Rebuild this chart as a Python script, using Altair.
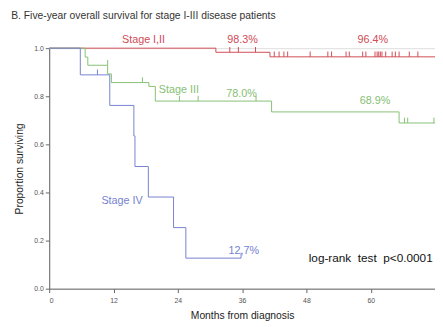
import altair as alt
import pandas as pd

# ---- data ----
red_t = [0, 31.1, 41.2, 72]
red_s = [1.0, 0.983, 0.964, 0.964]
green_t = [0, 6.7, 7.2, 10.9, 11.6, 18.6, 19.8, 41.5, 65.3, 72]
green_s = [1.0, 0.963, 0.929, 0.893, 0.857, 0.841, 0.780, 0.735, 0.689, 0.689]
blue_t = [0, 5.8, 11.3, 15.8, 16.0, 18.5, 23.2, 25.5, 35.8]
blue_s = [1.0, 0.889, 0.762, 0.635, 0.508, 0.381, 0.254, 0.127, 0.127]

red_cens_t = [33.7, 35.3, 38.5, 42.0, 42.9, 43.8, 44.5, 48.7, 52.0, 52.7, 55.4, 56.0,
              58.5, 59.1, 60.8, 61.2, 61.5, 61.8, 62.1, 62.8, 64.0, 64.6, 65.3, 67.2, 68.8]
red_cens_s = [0.983] * 3 + [0.964] * 22
green_cens_t = [10.9, 17.4, 24.3, 27.8, 38.6, 66.3, 66.9, 71.8]
green_cens_s = [0.929, 0.857, 0.780, 0.780, 0.780, 0.689, 0.689, 0.689]
blue_cens_t = [9.0, 35.8]
blue_cens_s = [0.889, 0.127]

series = ["Stage I,II", "Stage III", "Stage IV"]
line_colors = ["#cf4b55", "#86c073", "#7582d0"]
text_colors = ["#d03a45", "#6cb35a", "#5a70c0"]

labels = ["Stage I,II", "98.3%", "96.4%", "Stage III", "78.0%", "68.9%", "Stage IV", "12,7%"]
label_series = ["Stage I,II", "Stage I,II", "Stage I,II", "Stage III", "Stage III", "Stage III",
                "Stage IV", "Stage IV"]
label_t = [17.6, 36.1, 60.4, 24.2, 35.9, 60.8, 13.6, 36.3]
label_s = [1.033, 1.033, 1.033, 0.827, 0.811, 0.782, 0.364, 0.158]

logrank_text = ["log-rank\u00a0 test\u00a0 p<0.0001"]
logrank_t = [60.0]
logrank_s = [0.129]

x_ticks = [0, 12, 24, 36, 48, 60, 72]
y_ticks = [0, 0.1, 0.2, 0.3, 0.4, 0.5, 0.6, 0.7, 0.8, 0.9, 1.0]

# ---- tables ----
curves = pd.concat([
    pd.DataFrame({"t": red_t, "s": red_s, "g": series[0]}),
    pd.DataFrame({"t": green_t, "s": green_s, "g": series[1]}),
    pd.DataFrame({"t": blue_t, "s": blue_s, "g": series[2]}),
])
cens = pd.concat([
    pd.DataFrame({"t": red_cens_t, "s": red_cens_s, "g": series[0]}),
    pd.DataFrame({"t": green_cens_t, "s": green_cens_s, "g": series[1]}),
    pd.DataFrame({"t": blue_cens_t, "s": blue_cens_s, "g": series[2]}),
])
lab = pd.DataFrame({"label": labels, "g": label_series, "t": label_t, "s": label_s})
lr = pd.DataFrame({"label": logrank_text, "t": logrank_t, "s": logrank_s})

xscale = alt.Scale(domain=[0, 72], nice=False)
yscale = alt.Scale(domain=[0, 1], nice=False)
line_color = alt.Color("g:N", scale=alt.Scale(domain=series, range=line_colors), legend=None)
text_color = alt.Color("g:N", scale=alt.Scale(domain=series, range=text_colors), legend=None)

xaxis = alt.Axis(values=x_ticks, title="Months from diagnosis",
                 labelExpr="datum.value == 72 ? '' : datum.label",
                 labelFontSize=7, labelColor="#555", labelPadding=4, tickSize=4,
                 titleFontSize=10.5, titleColor="#222", titleFontWeight="normal",
                 titlePadding=7, domainColor="#666", tickColor="#666", grid=False,
                 labelFont="Liberation Sans", titleFont="Liberation Sans")
yaxis = alt.Axis(values=y_ticks, title="Proportion surviving", format=".1f",
                 labelExpr="(round(datum.value*10) % 2 == 0) ? datum.label : ''",
                 labelFontSize=7, labelColor="#555", labelPadding=2, tickSize=4,
                 titleFontSize=10.5, titleColor="#222", titleFontWeight="normal",
                 titlePadding=9, domainColor="#666", tickColor="#666", grid=False,
                 labelFont="Liberation Sans", titleFont="Liberation Sans")

lines = alt.Chart(curves).mark_line(interpolate="step-after", strokeWidth=1).encode(
    x=alt.X("t:Q", scale=xscale, axis=xaxis),
    y=alt.Y("s:Q", scale=yscale, axis=yaxis),
    color=line_color,
    detail="g:N",
)

ticks = alt.Chart(cens).transform_calculate(s2="datum.s + 0.022").mark_rule(strokeWidth=1).encode(
    x=alt.X("t:Q", scale=xscale),
    y=alt.Y("s:Q", scale=yscale),
    y2="s2:Q",
    color=line_color,
)

texts = alt.Chart(lab).mark_text(fontSize=11, font="Liberation Sans", baseline="middle",
                                 align="center").encode(
    x=alt.X("t:Q", scale=xscale),
    y=alt.Y("s:Q", scale=yscale),
    text="label:N",
    color=text_color,
)

lrtext = alt.Chart(lr).mark_text(fontSize=12, font="Liberation Sans", baseline="middle",
                                 align="center", color="#111").encode(
    x=alt.X("t:Q", scale=xscale),
    y=alt.Y("s:Q", scale=yscale),
    text="label:N",
)

chart = alt.layer(lines, ticks, texts, lrtext).properties(
    width=393,
    height=245,
    autosize=alt.AutoSizeParams(type="none"),
    padding={"left": 42, "top": 38, "right": 0, "bottom": 30},
    title=alt.TitleParams(
        text="B.  Five-year overall survival for stage I-III disease patients",
        anchor="start", frame="bounds", dx=-4, offset=13, fontSize=10.5,
        font="Liberation Sans", fontWeight="normal", color="#333",
    ),
).configure_view(stroke=None).configure(background="white")

chart.save("out.html", embed_options={"renderer": "svg", "actions": False})
